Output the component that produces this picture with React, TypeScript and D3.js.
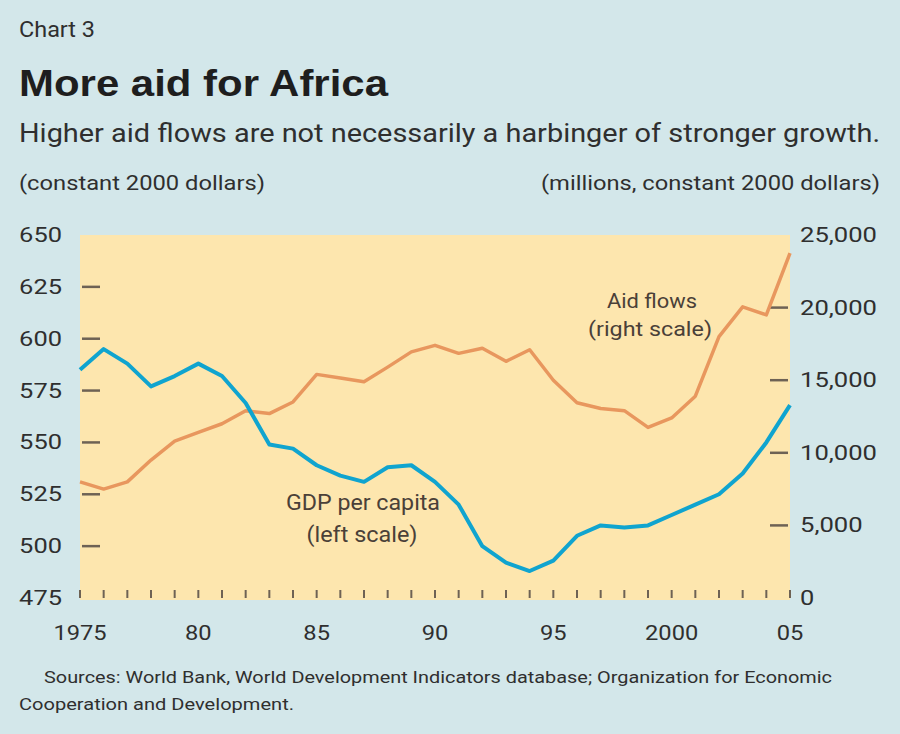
import * as d3 from 'd3';

const years = d3.range(1975, 2006);

// GDP per capita, constant 2000 dollars (left scale)
const gdpPerCapita = [
  585, 595, 588, 577, 582, 588, 582, 569, 549, 547,
  539, 534, 531, 538, 539, 531, 520, 500, 492, 488,
  493, 505, 510, 509, 510, 515, 520, 525, 535, 550, 568,
];

// Aid flows, millions of constant 2000 dollars (right scale)
const aidFlows = [
  8000, 7500, 8000, 9500, 10800, 11400, 12000, 12900, 12700, 13500,
  15400, 15150, 14900, 15900, 16950, 17400, 16850, 17200, 16300, 17100,
  15000, 13450, 13050, 12900, 11750, 12400, 13900, 18000, 20050, 19500, 23750,
];

const leftTicks = [475, 500, 525, 550, 575, 600, 625, 650];
const rightTicks = [0, 5000, 10000, 15000, 20000, 25000];
const xLabels = [1975, 1980, 1985, 1990, 1995, 2000, 2005];
const xLabelText = ['1975', '80', '85', '90', '95', '2000', '05'];

const FONT = '"Liberation Sans Narrow", "Roboto", "Liberation Sans", sans-serif';
const INK = '#2f2f2f';
const NOTE = '#4a4038';
const TICK = '#6e6254';

// rough width of a label in the reference's wide-digit face
const labelWidth = (s: string, digit: number) =>
  s.split('').reduce((w, c) => w + (c === ',' ? 5.5 : digit), 0);

const App = () => {
  const plot = { left: 80, right: 790, top: 235, bottom: 598 };

  const x = d3.scaleLinear().domain([1975, 2005]).range([plot.left, plot.right]);
  const yLeft = d3.scaleLinear().domain([475, 650]).range([plot.bottom, plot.top]);
  const yRight = d3.scaleLinear().domain([0, 25000]).range([plot.bottom, plot.top]);

  const gdpLine = d3.line<number>()
    .x((_d, i) => x(years[i]))
    .y(d => yLeft(d));
  const aidLine = d3.line<number>()
    .x((_d, i) => x(years[i]))
    .y(d => yRight(d));

  const fmt = d3.format(',');

  return (
    <svg width={900} height={734} style={{ position: 'absolute', left: 0, top: 0 }}
      fontFamily={FONT}>
      <rect width={900} height={734} fill="#d3e7ea" />

      <text x={19} y={37} fontSize={22} fill={INK} textLength={76} lengthAdjust="spacingAndGlyphs">Chart 3</text>
      <text x={19} y={96} fontSize={37} fontWeight="bold" fill="#1e1e1e"
        fontFamily='"Liberation Sans", Arial, sans-serif' textLength={369} lengthAdjust="spacingAndGlyphs">
        More aid for Africa
      </text>
      <text x={19} y={142} fontSize={26} fill={INK} textLength={861} lengthAdjust="spacingAndGlyphs">
        Higher aid flows are not necessarily a harbinger of stronger growth.
      </text>
      <text x={19} y={190} fontSize={20} fill={INK} textLength={246} lengthAdjust="spacingAndGlyphs">
        (constant 2000 dollars)
      </text>
      <text x={541} y={190} fontSize={20} fill={INK} textLength={339} lengthAdjust="spacingAndGlyphs">
        (millions, constant 2000 dollars)
      </text>

      <rect x={plot.left} y={plot.top} width={plot.right - plot.left} height={600 - plot.top} fill="#fde6ae" />

      {/* left axis */}
      {leftTicks.map(t => (
        <g key={'l' + t}>
          {t > 475 && t < 650 && (
            <line x1={plot.left + 2} x2={plot.left + 20} y1={yLeft(t)} y2={yLeft(t)} stroke={TICK} strokeWidth={2.5} />
          )}
          <text x={62} y={yLeft(t) + 7} fontSize={21} fill={INK} textAnchor="end"
            textLength={labelWidth(String(t), 14.3)} lengthAdjust="spacingAndGlyphs">{t}</text>
        </g>
      ))}

      {/* right axis */}
      {rightTicks.map(t => (
        <g key={'r' + t}>
          {t > 0 && t < 25000 && (
            <line x1={plot.right - 20} x2={plot.right - 2} y1={yRight(t)} y2={yRight(t)} stroke={TICK} strokeWidth={2.5} />
          )}
          <text x={800} y={yRight(t) + 7} fontSize={21} fill={INK}
            textLength={labelWidth(fmt(t), 14.3)} lengthAdjust="spacingAndGlyphs">{fmt(t)}</text>
        </g>
      ))}

      {/* bottom ticks */}
      {years.map(yr => (
        <line key={'x' + yr} x1={x(yr)} x2={x(yr)} y1={plot.bottom - 8} y2={plot.bottom} stroke={TICK} strokeWidth={2} />
      ))}
      {xLabels.map((yr, i) => (
        <text key={'xl' + yr} x={x(yr)} y={640} fontSize={21} fill={INK} textAnchor="middle"
          textLength={labelWidth(xLabelText[i], 13.3)} lengthAdjust="spacingAndGlyphs">{xLabelText[i]}</text>
      ))}

      <path d={aidLine(aidFlows) ?? ''} fill="none" stroke="#e8975e" strokeWidth={3.5} strokeLinejoin="round" />
      <path d={gdpLine(gdpPerCapita) ?? ''} fill="none" stroke="#10a4cf" strokeWidth={4} strokeLinejoin="round" />

      <text x={652} y={308} fontSize={21} fill={NOTE} textAnchor="middle" textLength={90} lengthAdjust="spacingAndGlyphs">Aid flows</text>
      <text x={650} y={336} fontSize={21} fill={NOTE} textAnchor="middle" textLength={124} lengthAdjust="spacingAndGlyphs">(right scale)</text>
      <text x={363} y={510} fontSize={22} fill={NOTE} textAnchor="middle" textLength={154} lengthAdjust="spacingAndGlyphs">GDP per capita</text>
      <text x={362} y={542} fontSize={22} fill={NOTE} textAnchor="middle" textLength={111} lengthAdjust="spacingAndGlyphs">(left scale)</text>

      <text x={44} y={683} fontSize={17} fill={INK} textLength={788} lengthAdjust="spacingAndGlyphs">
        Sources: World Bank, World Development Indicators database; Organization for Economic
      </text>
      <text x={19} y={710} fontSize={17} fill={INK} textLength={275} lengthAdjust="spacingAndGlyphs">
        Cooperation and Development.
      </text>
    </svg>
  );
};

export default App;
